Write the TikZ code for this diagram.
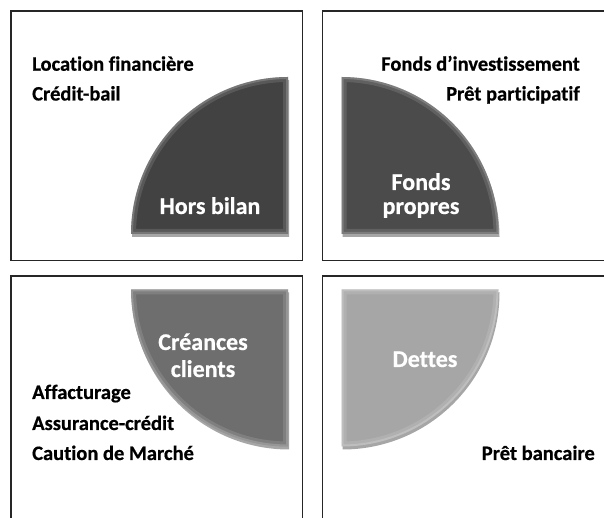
\documentclass[tikz,border=0pt]{standalone}
\usepackage{fontspec}
\setmainfont{Carlito}[Ligatures={NoCommon,NoRare,NoContextual}, BoldFeatures={FakeBold=0.6}]
\usetikzlibrary{shadows}
\definecolor{qa}{HTML}{424242}
\definecolor{qb}{HTML}{4B4B4B}
\definecolor{qc}{HTML}{6E6E6E}
\definecolor{qd}{HTML}{A6A6A6}
\tikzset{
  panel/.style={draw=black!85, line width=1.3bp},
  quad/.style={drop shadow={shadow xshift=1bp,shadow yshift=-3bp,opacity=0.35,fill=black}},
  lbl/.style={inner sep=0pt, font=\fontsize{20.5bp}{24bp}\selectfont\bfseries, text=black},
  qlbl/.style={inner sep=0pt, font=\fontsize{24bp}{27bp}\selectfont\bfseries, text=white, align=center},
}
\newcommand{\bevel}[1]{%
  \begin{scope}
    \clip #1;
    \draw[white, opacity=0.12, line width=10bp] #1;
    \draw[white, opacity=0.18, line width=4bp] #1;
  \end{scope}}
\begin{document}
\begin{tikzpicture}[x=1bp,y=1bp]
\useasboundingbox (0,0) rectangle (604,518);
\clip (0,0) rectangle (604,518);
% panels
\draw[panel] (11,507) rectangle (302.5,257.5);
\draw[panel] (322.5,507) rectangle (640,257.5);
\draw[panel] (11,242) rectangle (302.5,-30);
\draw[panel] (322.5,242) rectangle (640,-30);
% quadrants
\fill[quad, fill=qa] (288,284) -- (131,284) arc[start angle=180,end angle=90,radius=157] -- cycle;
\bevel{(288,284) -- (131,284) arc[start angle=180,end angle=90,radius=157] -- cycle}
\fill[quad, fill=qb] (341.5,284) -- (498.5,284) arc[start angle=0,end angle=90,radius=157] -- cycle;
\bevel{(341.5,284) -- (498.5,284) arc[start angle=0,end angle=90,radius=157] -- cycle}
\fill[quad, fill=qc] (288,228.5) -- (131,228.5) arc[start angle=180,end angle=270,radius=157] -- cycle;
\bevel{(288,228.5) -- (131,228.5) arc[start angle=180,end angle=270,radius=157] -- cycle}
\fill[quad, fill=qd] (341.5,228.5) -- (498.5,228.5) arc[start angle=0,end angle=-90,radius=157] -- cycle;
\bevel{(341.5,228.5) -- (498.5,228.5) arc[start angle=0,end angle=-90,radius=157] -- cycle}
% quadrant labels
\node[qlbl, anchor=base] (hb) at (210,304) {Hors bilan};
\node[qlbl, anchor=base] (fp1) at (421,328) {Fonds};
\node[qlbl, anchor=base] (fp2) at (421,304) {propres};
\node[qlbl, anchor=base] (cc1) at (203,168) {Créances};
\node[qlbl, anchor=base] (cc2) at (203,141) {clients};
\node[qlbl, anchor=base] (de) at (425,151) {Dettes};
% item texts
\node[lbl, anchor=base west] (lf) at (32,447.3) {Location financière};
\node[lbl, anchor=base west] (cb) at (32,417.5) {Crédit-bail};
\node[lbl, anchor=base east] (fi) at (580,447.3) {Fonds d’investissement};
\node[lbl, anchor=base east] (pp) at (580,417.5) {Prêt participatif};
\node[lbl, anchor=base west] (af) at (32,119) {Affacturage};
\node[lbl, anchor=base west] (ac) at (32,88) {Assurance-crédit};
\node[lbl, anchor=base west] (cm) at (32,58) {Caution de Marché};
\node[lbl, anchor=base east] (pb) at (595,58) {Prêt bancaire};
\end{tikzpicture}
\end{document}
